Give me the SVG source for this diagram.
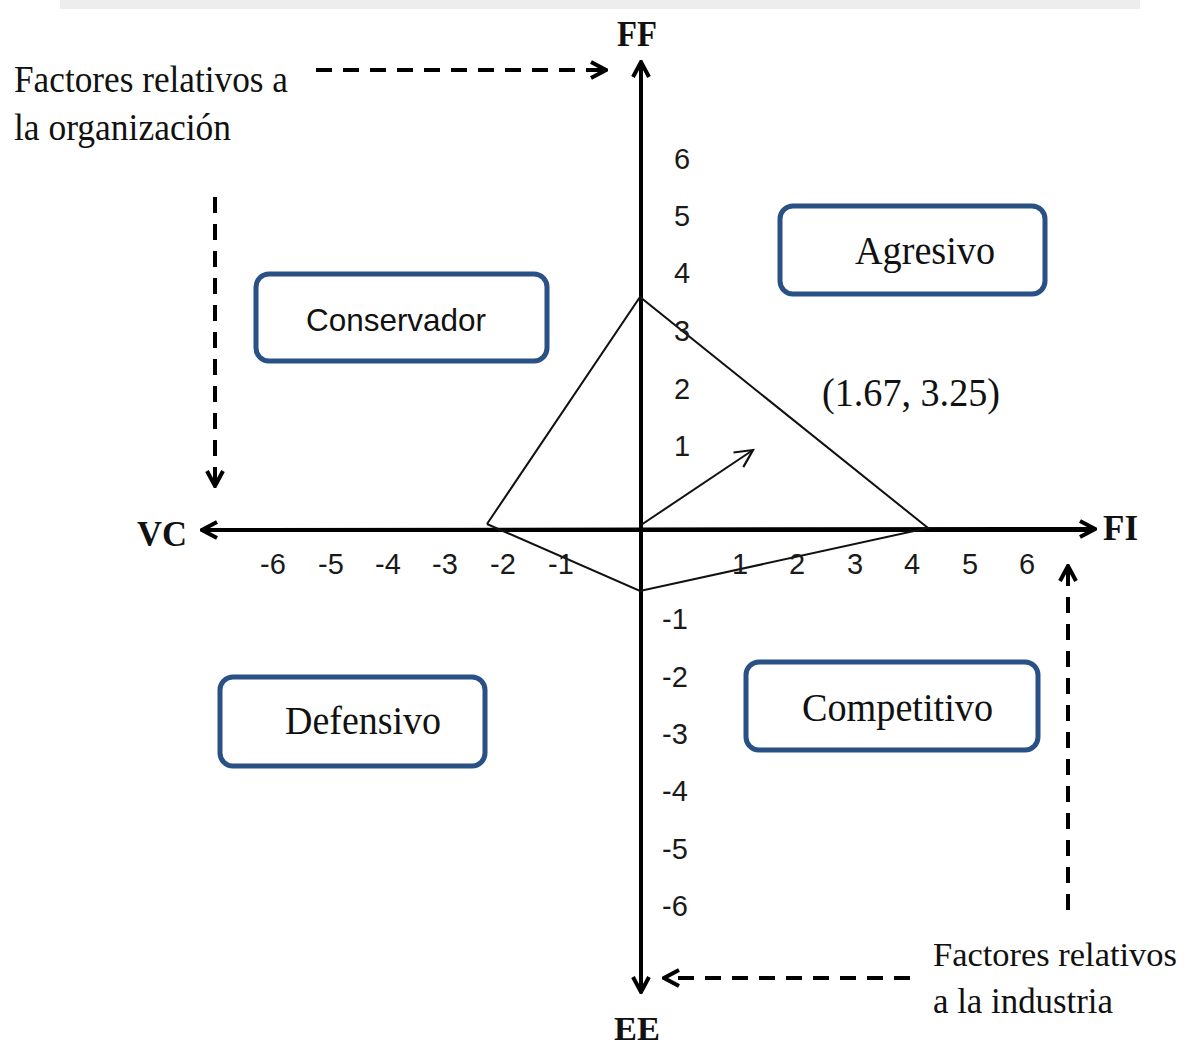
<svg xmlns="http://www.w3.org/2000/svg" width="1188" height="1046" viewBox="0 0 1188 1046">
<style>
.serif{font-family:"Liberation Serif","Times New Roman",serif;fill:#111}
.bold{font-weight:bold}
.num{font-family:"Liberation Sans","Open Sans",sans-serif;font-size:29px;fill:#1a1a1a}
.box{fill:#fff;stroke:#2a5186;stroke-width:5}
.axis{stroke:#000;stroke-width:4;fill:none}
.thin{stroke:#111;stroke-width:2;fill:none}
.dash{stroke:#000;stroke-width:4;fill:none;stroke-dasharray:16 11}
</style>
<defs>
<marker id="chev" viewBox="0 0 20 20" refX="18" refY="10" markerWidth="20" markerHeight="20" markerUnits="userSpaceOnUse" orient="auto">
<path d="M3,2 L18,10 L3,18" fill="none" stroke="#000" stroke-width="4"/>
</marker>
<marker id="chevs" viewBox="0 0 20 20" refX="18" refY="10" markerWidth="22" markerHeight="22" markerUnits="userSpaceOnUse" orient="auto">
<path d="M2,2 L18,10 L2,18" fill="none" stroke="#111" stroke-width="2"/>
</marker>
</defs>
<rect width="1188" height="1046" fill="#fff"/>
<rect x="60" y="0" width="1080" height="9" fill="#ededed"/>

<g id="connectors">
<line class="axis" x1="641" y1="990" x2="641" y2="62" marker-end="url(#chev)"/>
<line class="axis" x1="641" y1="62" x2="641" y2="992" marker-end="url(#chev)"/>
<line class="axis" x1="1093" y1="530" x2="202" y2="530" marker-end="url(#chev)"/>
<line class="axis" x1="202" y1="530" x2="1095" y2="529" marker-end="url(#chev)"/>
<polyline class="thin" points="487,524 640,297 928,528 640,591 487,524"/>
<line class="thin" x1="641" y1="525" x2="753" y2="450" marker-end="url(#chevs)"/>
<line class="dash" x1="316" y1="70" x2="606" y2="70" marker-end="url(#chev)"/>
<line class="dash" x1="215" y1="197" x2="215" y2="486" marker-end="url(#chev)"/>
<line class="dash" x1="1068" y1="910" x2="1068" y2="566" marker-end="url(#chev)"/>
<line class="dash" x1="910" y1="978" x2="664" y2="978" marker-end="url(#chev)"/>
</g>

<g id="axis-labels">
<text class="serif bold" x="617" y="46" font-size="35" textLength="40" lengthAdjust="spacingAndGlyphs">FF</text>
<text class="serif bold" x="614" y="1040" font-size="33" textLength="46" lengthAdjust="spacingAndGlyphs">EE</text>
<text class="serif bold" x="137" y="546" font-size="36" textLength="50" lengthAdjust="spacingAndGlyphs">VC</text>
<text class="serif bold" x="1103" y="540" font-size="36" textLength="35" lengthAdjust="spacingAndGlyphs">FI</text>
</g>

<g id="ticks-x" class="num">
<text x="260" y="574">-6</text>
<text x="318" y="574">-5</text>
<text x="375" y="574">-4</text>
<text x="432" y="574">-3</text>
<text x="490" y="574">-2</text>
<text x="548" y="574">-1</text>
<text x="732" y="574">1</text>
<text x="789" y="574">2</text>
<text x="847" y="574">3</text>
<text x="904" y="574">4</text>
<text x="962" y="574">5</text>
<text x="1019" y="574">6</text>
</g>
<g id="ticks-y" class="num">
<text x="674" y="169">6</text>
<text x="674" y="226">5</text>
<text x="674" y="283">4</text>
<text x="674" y="341">3</text>
<text x="674" y="399">2</text>
<text x="674" y="456">1</text>
<text x="662" y="629">-1</text>
<text x="662" y="687">-2</text>
<text x="662" y="744">-3</text>
<text x="662" y="801">-4</text>
<text x="662" y="859">-5</text>
<text x="662" y="916">-6</text>
</g>

<g id="agresivo">
<rect class="box" x="780" y="206" width="265" height="88" rx="13"/>
<text class="serif" x="855" y="264" font-size="39" textLength="140" lengthAdjust="spacingAndGlyphs">Agresivo</text>
</g>
<g id="conservador">
<rect class="box" x="256" y="274" width="291" height="87" rx="13"/>
<text x="306" y="331" font-family="Liberation Sans, Open Sans, sans-serif" font-size="32" fill="#111" textLength="180" lengthAdjust="spacingAndGlyphs">Conservador</text>
</g>
<g id="defensivo">
<rect class="box" x="220" y="677" width="265" height="89" rx="13"/>
<text class="serif" x="285" y="734" font-size="39" textLength="156" lengthAdjust="spacingAndGlyphs">Defensivo</text>
</g>
<g id="competitivo">
<rect class="box" x="746" y="662" width="292" height="88" rx="13"/>
<text class="serif" x="802" y="721" font-size="39" textLength="191" lengthAdjust="spacingAndGlyphs">Competitivo</text>
</g>

<g id="point-label">
<text class="serif" x="822" y="406" font-size="39" textLength="178" lengthAdjust="spacingAndGlyphs">(1.67, 3.25)</text>
</g>

<g id="note-org">
<text class="serif" x="14" y="92" font-size="37" textLength="274" lengthAdjust="spacingAndGlyphs">Factores relativos a</text>
<text class="serif" x="14" y="140" font-size="37" textLength="217" lengthAdjust="spacingAndGlyphs">la organización</text>
</g>
<g id="note-ind">
<text class="serif" x="933" y="966" font-size="33" textLength="244" lengthAdjust="spacingAndGlyphs">Factores relativos</text>
<text class="serif" x="933" y="1013" font-size="35" textLength="180" lengthAdjust="spacingAndGlyphs">a la industria</text>
</g>
</svg>
